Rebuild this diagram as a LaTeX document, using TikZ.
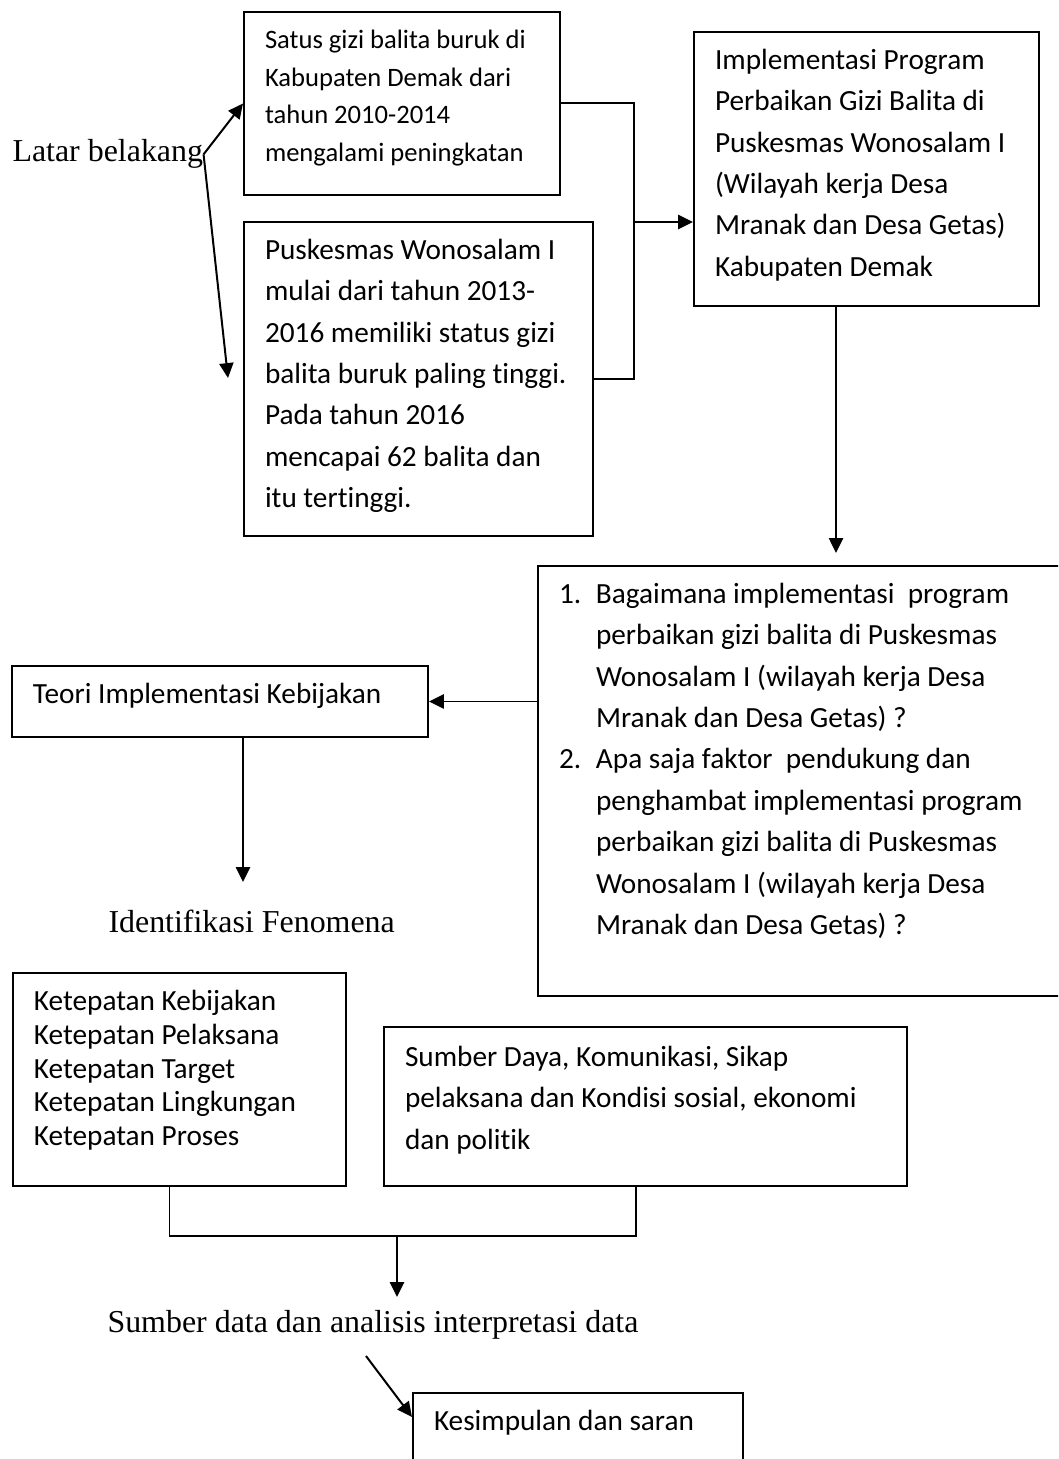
\documentclass[tikz,border=0pt]{standalone}
\usepackage{fontspec}
\setmainfont{Liberation Serif}
\newfontfamily\calibri[Ligatures=NoCommon]{Carlito}
\usetikzlibrary{arrows.meta, calc}
\newlength{\px}
\setlength{\px}{0.376pt}
\newcommand{\boxtext}[3]{\parbox[t][#2][t]{#1}{\raggedright\strut #3}}
\tikzset{
  box/.style={draw, line width=0.75pt, anchor=north west, inner xsep=21\px, inner ysep=8\px,
    font=\calibri\fontsize{11pt}{15.6pt}\selectfont},
  serif/.style={anchor=base west, inner sep=0pt, font=\fontsize{12pt}{14pt}\selectfont},
  line/.style={line width=0.75pt},
  >={Triangle[length=5.6pt,width=5.3pt]}
}

\begin{document}
\begin{tikzpicture}[x=0.376pt, y=-0.376pt]
  \useasboundingbox (0,0) rectangle (1058,1459);
  \clip (0,0) rectangle (1058,1459);
  % latar belakang
  \node[serif] (latar) at (12,162) {Latar belakang};
  \node[box, inner ysep=10\px, font=\calibri\fontsize{10pt}{14.2pt}\selectfont] (stat) at (243,11)
    {\boxtext{274\px}{163\px}{Satus gizi balita buruk di\\Kabupaten Demak dari\\tahun 2010-2014\\mengalami peningkatan}};
  \node[box] (pusk) at (243,221)
    {\boxtext{307\px}{298\px}{Puskesmas Wonosalam I\\mulai dari tahun 2013-\\2016 memiliki status gizi\\balita buruk paling tinggi.\\Pada tahun 2016\\mencapai 62 balita dan\\itu tertinggi.}};
  \node[box] (prog) at (693,31)
    {\boxtext{303\px}{258\px}{Implementasi Program\\Perbaikan Gizi Balita di\\Puskesmas Wonosalam I\\(Wilayah kerja Desa\\Mranak dan Desa Getas)\\Kabupaten Demak}};
  % rumusan masalah
  \node[box] (rumusan) at (537,565)
    {\boxtext{488\px}{414\px}{\makebox[37\px][l]{1.}Bagaimana implementasi\ \ program\\
      \hspace*{37\px}perbaikan gizi balita di Puskesmas\\
      \hspace*{37\px}Wonosalam I (wilayah kerja Desa\\
      \hspace*{37\px}Mranak dan Desa Getas) ?\\
      \makebox[37\px][l]{2.}Apa saja faktor\ \ pendukung dan\\
      \hspace*{37\px}penghambat implementasi program\\
      \hspace*{37\px}perbaikan gizi balita di Puskesmas\\
      \hspace*{37\px}Wonosalam I (wilayah kerja Desa\\
      \hspace*{37\px}Mranak dan Desa Getas) ?}};
  \node[box] (teori) at (11,665)
    {\boxtext{374\px}{55\px}{Teori Implementasi Kebijakan}};
  \node[serif] (fenomena) at (108,932) {Identifikasi Fenomena};
  % ketepatan dan faktor
  \node[box, inner ysep=14\px, font=\calibri\fontsize{11pt}{12.7pt}\selectfont] (kete) at (12,972)
    {\boxtext{291\px}{185\px}{Ketepatan Kebijakan\\Ketepatan Pelaksana\\Ketepatan Target\\Ketepatan Lingkungan\\Ketepatan Proses}};
  \node[box, inner ysep=10\px] (faktor) at (383,1026)
    {\boxtext{481\px}{139\px}{Sumber Daya, Komunikasi, Sikap\\pelaksana dan Kondisi sosial, ekonomi\\dan politik}};
  \node[serif] (data) at (107,1332) {Sumber data dan analisis interpretasi data};
  \node[box] (simpul) at (412,1392)
    {\boxtext{288\px}{74\px}{Kesimpulan dan saran}};
  % free ends
  \coordinate (tipA) at (228,378);
  \coordinate (join) at (634,222);
  \coordinate (tipB) at (836,553);
  \coordinate (tipC) at (243,882);
  \coordinate (merge) at (397,1236);
  \coordinate (tipD) at (397,1297);
  \coordinate (tail) at (366,1356);
  % connectors
  \draw[line,->] (latar.east) -- (stat.west);
  \draw[line,->] (latar.east) -- (tipA);
  \draw[line] (stat.east) -| (join) |- (pusk.east);
  \draw[line,->] (join) -- (join -| prog.west);
  \draw[line,->] (prog.south -| tipB) -- (tipB);
  \draw[line,->] (rumusan.west |- teori.east) -- (teori.east);
  \draw[line,->] (teori.south -| tipC) -- (tipC);
  \draw[line] ([xshift=-10\px]kete.south) |- (merge) -| ([xshift=-10\px]faktor.south);
  \draw[line,->] (merge) -- (tipD);
  \draw[line,->] (tail) -- ([yshift=-25\px]simpul.north west);
\end{tikzpicture}
\end{document}
